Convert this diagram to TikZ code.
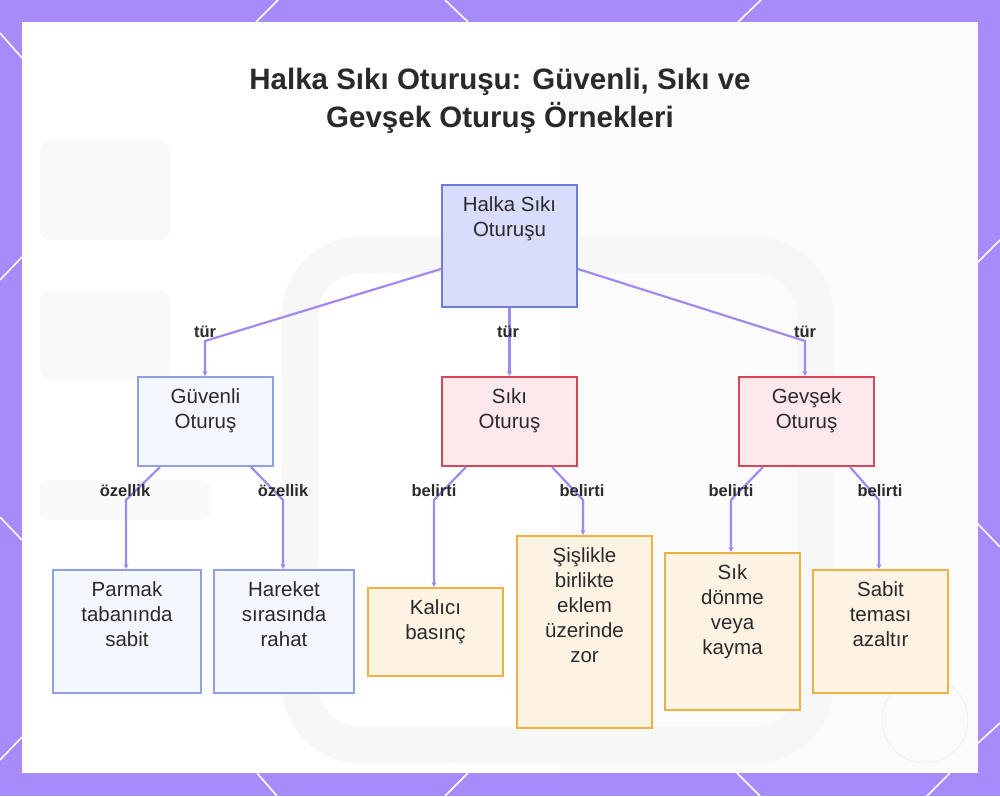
\documentclass[tikz,border=0pt]{standalone}
\usepackage{fontspec}
\setmainfont{Liberation Sans}
\usetikzlibrary{arrows.meta}
\definecolor{bgpurple}{HTML}{A78BFA}
\definecolor{conncol}{HTML}{A08AF0}
\definecolor{rootfill}{HTML}{D9DCFB}
\definecolor{rootdraw}{HTML}{6D7ED8}
\definecolor{bluefill}{HTML}{F5F7FE}
\definecolor{bluedraw}{HTML}{8DA2E6}
\definecolor{redfill}{HTML}{FDE9EC}
\definecolor{reddraw}{HTML}{D4475A}
\definecolor{orfill}{HTML}{FFF4E4}
\definecolor{ordraw}{HTML}{EFB142}
\definecolor{txtcol}{HTML}{2A2A2A}
\begin{document}
\begin{tikzpicture}[x=1pt,y=-1pt,
  boxbase/.style={draw, line width=2pt, anchor=north west, inner sep=0pt},
  rootbox/.style={boxbase, fill=rootfill, draw=rootdraw},
  bluebox/.style={boxbase, fill=bluefill, draw=bluedraw},
  redbox/.style={boxbase, fill=redfill, draw=reddraw},
  orbox/.style={boxbase, fill=orfill, draw=ordraw},
  boxtext/.style={anchor=north, inner sep=0pt, align=center, text=txtcol,
    font=\fontsize{20.5}{25}\selectfont, execute at begin node={\rule{0pt}{15pt}}},
  elabel/.style={inner sep=0pt, text=txtcol, font=\bfseries\fontsize{16.5}{18}\selectfont},
  conn/.style={draw=conncol, line width=2.2pt, -{Stealth[length=5pt,width=5pt]}},
  deco/.style={draw=white, line width=1.6pt}
]
\useasboundingbox (0,0) rectangle (1000,796);
\fill[bgpurple] (0,0) rectangle (1000,796);
% corner decorations
\draw[deco] (0,33) -- (22,58);
\draw[deco] (256,22) -- (278,0);
\draw[deco] (445,0) -- (468,22);
\draw[deco] (738,22) -- (761,0);
\draw[deco] (0,280) -- (22,257);
\draw[deco] (0,517) -- (22,540);
\draw[deco] (977,263) -- (1000,240);
\draw[deco] (977,523) -- (1000,547);
\draw[deco] (0,760) -- (22,737);
\draw[deco] (978,743) -- (1000,723);
\draw[deco] (257,773) -- (277,796);
\draw[deco] (468,773) -- (445,796);
\draw[deco] (737,773) -- (760,796);
\draw[deco] (950,773) -- (927,796);
% panel
\fill[white] (22,22) rectangle (978,773);
% faint background
\fill[black!1.5] (560,22) rectangle (978,773);
\draw[black!3, line width=36pt, rounded corners=60pt] (300,255) rectangle (815,745);
\fill[black!2.5, rounded corners=10pt] (40,140) rectangle (170,240);
\fill[black!2.5, rounded corners=10pt] (40,290) rectangle (170,380);
\fill[black!2, rounded corners=8pt] (40,480) rectangle (210,520);
\draw[white!93!black, line width=0.6pt] (925,720) circle (43);
% title
\node[font=\bfseries\fontsize{29.5}{38}\selectfont, text=txtcol, align=center] (title) at (500,101)
  {Halka Sıkı Oturuşu: Güvenli, Sıkı ve\\Gevşek Oturuş Örnekleri};
% boxes
\node[rootbox, minimum width=135pt, minimum height=122pt] (root) at (441,184) {};
\node[bluebox, minimum width=135pt, minimum height=89pt] (guv) at (137,376) {};
\node[redbox, minimum width=135pt, minimum height=89pt] (siki) at (441,376) {};
\node[redbox, minimum width=135pt, minimum height=89pt] (gev) at (738,376) {};
\node[bluebox, minimum width=148pt, minimum height=123pt] (parmak) at (52,569) {};
\node[bluebox, minimum width=140pt, minimum height=123pt] (hareket) at (213,569) {};
\node[orbox, minimum width=135pt, minimum height=88pt] (kalici) at (367,587) {};
\node[orbox, minimum width=135pt, minimum height=192pt] (sis) at (516,535) {};
\node[orbox, minimum width=135pt, minimum height=157pt] (donme) at (664,552) {};
\node[orbox, minimum width=135pt, minimum height=123pt] (sabit) at (812,569) {};
% texts
\node[boxtext] (root-t) at ([yshift=-12pt]root.north) {Halka Sıkı\\Oturuşu};
\node[boxtext] (guv-t) at ([yshift=-12pt]guv.north) {Güvenli\\Oturuş};
\node[boxtext] (siki-t) at ([yshift=-12pt]siki.north) {Sıkı\\Oturuş};
\node[boxtext] (gev-t) at ([yshift=-12pt]gev.north) {Gevşek\\Oturuş};
\node[boxtext] (parmak-t) at ([yshift=-12pt]parmak.north) {Parmak\\tabanında\\sabit};
\node[boxtext] (hareket-t) at ([yshift=-12pt]hareket.north) {Hareket\\sırasında\\rahat};
\node[boxtext] (kalici-t) at ([yshift=-12pt]kalici.north) {Kalıcı\\basınç};
\node[boxtext] (sis-t) at ([yshift=-12pt]sis.north) {Şişlikle\\birlikte\\eklem\\üzerinde\\zor};
\node[boxtext] (donme-t) at ([yshift=-12pt]donme.north) {Sık\\dönme\\veya\\kayma};
\node[boxtext] (sabit-t) at ([yshift=-12pt]sabit.north) {Sabit\\teması\\azaltır};
% bend coordinates
\coordinate (b1) at (205,341);
\coordinate (b2) at (805,341);
\coordinate (b3) at (126,500);
\coordinate (b4) at (283,500);
\coordinate (b5) at (434,500);
\coordinate (b6) at (583,500);
\coordinate (b7) at (731,500);
\coordinate (b8) at (879,500);
% connectors
\draw[conn] ([yshift=-23pt]root.west) -- (b1) -- (b1 |- guv.north);
\draw[conn] (root.south) -- (siki.north);
\draw[conn] ([yshift=-23pt]root.east) -- (b2) -- (b2 |- gev.north);
\draw[conn] ([xshift=23pt]guv.south west) -- (b3) -- (b3 |- parmak.north);
\draw[conn] ([xshift=-23pt]guv.south east) -- (b4) -- (b4 |- hareket.north);
\draw[conn] ([xshift=25pt]siki.south west) -- (b5) -- (b5 |- kalici.north);
\draw[conn] ([xshift=-26pt]siki.south east) -- (b6) -- (b6 |- sis.north);
\draw[conn] ([xshift=25pt]gev.south west) -- (b7) -- (b7 |- donme.north);
\draw[conn] ([xshift=-25pt]gev.south east) -- (b8) -- (b8 |- sabit.north);
% edge labels
\node[elabel] (l1) at (205,332) {tür};
\node[elabel] (l2) at (508,332) {tür};
\node[elabel] (l3) at (805,332) {tür};
\node[elabel] (l4) at (125,491) {özellik};
\node[elabel] (l5) at (283,491) {özellik};
\node[elabel] (l6) at (434,491) {belirti};
\node[elabel] (l7) at (582,491) {belirti};
\node[elabel] (l8) at (731,491) {belirti};
\node[elabel] (l9) at (880,491) {belirti};
\end{tikzpicture}
\end{document}
